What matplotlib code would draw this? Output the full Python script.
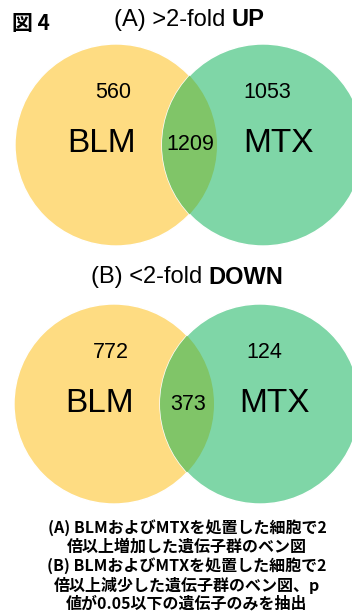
import matplotlib
matplotlib.use("Agg")
import matplotlib.pyplot as plt
from matplotlib.patches import Circle

# Data
set_names = ["BLM", "MTX"]
titles = [("(A) >2-fold ", "UP"), ("(B) <2-fold ", "DOWN")]
up_counts = [560, 1209, 1053]      # BLM only, both, MTX only
down_counts = [772, 373, 124]
fig_label = "図 4"
caption = ["(A) BLMおよびMTXを処置した細胞で2",
           "倍以上増加した遺伝子群のベン図",
           "(B) BLMおよびMTXを処置した細胞で2",
           "倍以上減少した遺伝子群のベン図、p",
           "値が0.05以下の遺伝子のみを抽出"]

YELLOW = "#FEDC82"
GREEN = "#7FD6A7"
OVERLAP = "#80C568"

W, H = 352, 616
fig = plt.figure(figsize=(W / 100, H / 100), dpi=100)
ax = fig.add_axes([0, 0, 1, 1])
ax.set_xlim(0, W)
ax.set_ylim(H, 0)
ax.set_aspect("equal")
ax.axis("off")

LAT = ["Liberation Sans", "DejaVu Sans"]
JP = ["Noto Sans CJK JP", "DejaVu Sans"]


def venn(cx1, cx2, cy, r, counts):
    c1 = Circle((cx1, cy), r, facecolor=YELLOW, edgecolor="white", lw=1.0, zorder=1)
    c2 = Circle((cx2, cy), r, facecolor=GREEN, edgecolor="white", lw=1.0, zorder=2)
    ax.add_patch(c1)
    ax.add_patch(c2)
    ov = Circle((cx1, cy), r, facecolor=OVERLAP, edgecolor="none", zorder=3)
    ax.add_patch(ov)
    clip = Circle((cx2, cy), r, transform=ax.transData)
    ov.set_clip_path(clip)
    ax.text(cx1 - 14, cy - 1, set_names[0], fontsize=24, family=LAT, ha="center", va="center", zorder=5)
    ax.text(cx2 + 15, cy - 1, set_names[1], fontsize=24, family=LAT, ha="center", va="center", zorder=5)
    ax.text(cx1 - 3, cy - 52, str(counts[0]), fontsize=15.5, family=LAT, ha="center", va="center", zorder=5)
    ax.text(cx2 + 4, cy - 52, str(counts[2]), fontsize=15.5, family=LAT, ha="center", va="center", zorder=5)
    ax.text((cx1 + cx2) / 2 + 1, cy, str(counts[1]), fontsize=15.5, family=LAT, ha="center", va="center", zorder=5)


venn(116, 263, 145, 101, up_counts)
venn(114, 260, 404, 100, down_counts)


def title(x, y, parts):
    t1 = ax.text(x, y, parts[0], fontsize=17, family=LAT, ha="left", va="center")
    fig.canvas.draw()
    bb = t1.get_window_extent()
    inv = ax.transData.inverted()
    x_end = inv.transform((bb.x1, bb.y0))[0]
    ax.text(x_end, y, parts[1], fontsize=17, family=LAT, fontweight="bold", ha="left", va="center")


title(114, 20, titles[0])
title(91, 277, titles[1])

ax.text(12, 23, fig_label, fontsize=15, family=JP, fontweight="bold", ha="left", va="center")

for i, line in enumerate(caption):
    ax.text(187, 528 + i * 19, line, fontsize=11.5, family=JP, fontweight="bold",
            ha="center", va="center")

fig.savefig("out.png", dpi=100)
